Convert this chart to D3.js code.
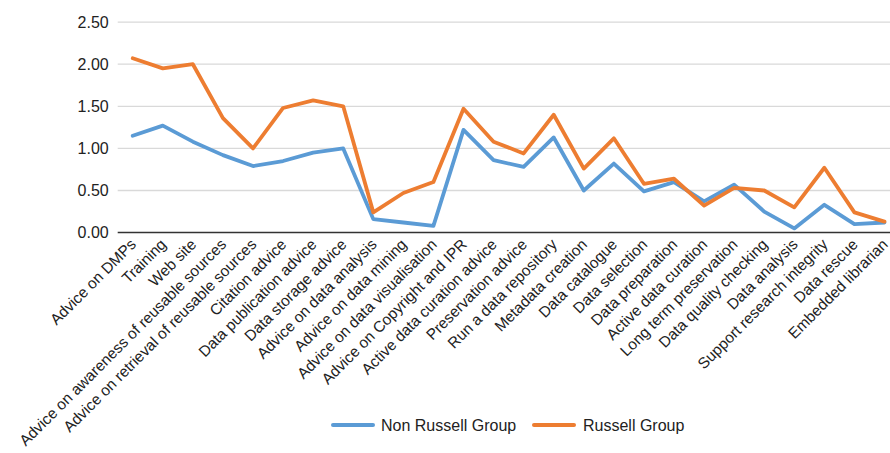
<!DOCTYPE html>
<html><head><meta charset="utf-8">
<script src="https://cdn.jsdelivr.net/npm/d3@7"></script>
<style>body{margin:0;background:#fff;} svg{display:block;font-family:"Liberation Sans",Arial,Helvetica,sans-serif;}</style>
</head><body>
<svg id="c" width="890" height="453"></svg>
<script>
const categories = ["Advice on DMPs","Training","Web site","Advice on awareness of reusable sources","Advice on retrieval of reusable sources","Citation advice","Data publication advice","Data storage advice","Advice on data analysis","Advice on data mining","Advice on data visualisation","Advice on Copyright and IPR","Active data curation advice","Preservation advice","Run a data repository","Metadata creation","Data catalogue","Data selection","Data preparation","Active data curation","Long term preservation","Data quality checking","Data analysis","Support research integrity","Data rescue","Embedded librarian"];
const nonRussell = [1.15,1.27,1.08,0.92,0.79,0.85,0.95,1.00,0.16,0.12,0.08,1.22,0.86,0.78,1.13,0.50,0.82,0.49,0.60,0.37,0.57,0.25,0.05,0.33,0.10,0.12];
const russell = [2.07,1.95,2.00,1.36,1.00,1.48,1.57,1.50,0.24,0.47,0.60,1.47,1.08,0.94,1.40,0.76,1.12,0.58,0.64,0.32,0.53,0.50,0.30,0.77,0.24,0.13];
const yTicks = [0,0.5,1,1.5,2,2.5];
const seriesNames = ["Non Russell Group","Russell Group"];
const colors = ["#5b9bd5","#ed7d31"];

const svg = d3.select("#c");
const x0 = 117.7, step = 30.07;
const x = d3.scaleBand().domain(categories).range([x0, x0 + step*categories.length]).paddingInner(0).paddingOuter(0);
const cx = d => x(d) + x.bandwidth()/2;
const y = d3.scaleLinear().domain([0,2.5]).range([232.6, 22.1]);

// gridlines
svg.append("g").selectAll("line").data(yTicks.filter(t=>t>0)).join("line")
  .attr("x1", x0).attr("x2", 890).attr("y1", d=>y(d)).attr("y2", d=>y(d))
  .attr("stroke", "#d9d9d9").attr("stroke-width", 1.3);

// y labels
const yAxis = d3.axisLeft(y).tickValues(yTicks).tickFormat(d3.format(".2f")).tickSize(0).tickPadding(9);
const ya = svg.append("g").attr("transform", `translate(${x0},0)`).call(yAxis);
ya.select(".domain").remove();
ya.selectAll("text").attr("font-size", 16).attr("fill", "#222").attr("font-family", "inherit");

// x axis line
svg.append("line").attr("x1", x0).attr("x2", 890).attr("y1", y(0)).attr("y2", y(0))
  .attr("stroke", "#333").attr("stroke-width", 1.5);

// x labels
svg.append("g").selectAll("text").data(categories).join("text")
  .attr("transform", d => `translate(${cx(d)+0.5},${y(0)+9}) rotate(-45)`)
  .attr("text-anchor", "end").attr("dy", "0.35em")
  .attr("font-size", 15.4).attr("fill", "#222").text(d=>d);

// lines
const line = d3.line().x((d,i)=>cx(categories[i])).y(d=>y(d));
[nonRussell, russell].forEach((s,k)=>{
  svg.append("path").datum(s).attr("d", line).attr("fill","none")
    .attr("stroke", colors[k]).attr("stroke-width", 3.8).attr("stroke-linejoin","round").attr("stroke-linecap","round");
});

// legend
const leg = [{x:333, tx:381},{x:534, tx:583}];
seriesNames.forEach((n,k)=>{
  svg.append("line").attr("x1", leg[k].x).attr("x2", leg[k].x+40).attr("y1", 425).attr("y2", 425)
    .attr("stroke", colors[k]).attr("stroke-width", 4).attr("stroke-linecap","round");
  svg.append("text").attr("x", leg[k].tx).attr("y", 425).attr("dy","0.35em")
    .attr("font-size", 16).attr("fill","#222").text(n);
});
</script>
</body></html>
